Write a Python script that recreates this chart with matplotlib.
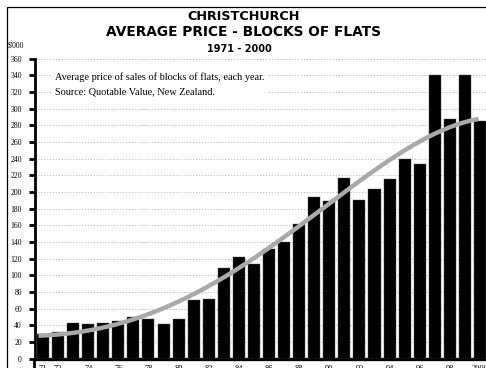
import numpy as np
import matplotlib
matplotlib.use("Agg")
import matplotlib.pyplot as plt
from matplotlib.patches import Rectangle
from matplotlib.lines import Line2D

# Average sale price of blocks of flats in Christchurch ($'000)
years = list(range(1971, 2001))
prices = [29, 32, 43, 41, 43, 45, 50, 47, 41, 48,
          70, 72, 109, 122, 113, 131, 140, 162, 194, 189,
          217, 190, 203, 216, 239, 234, 340, 288, 340, 285]

# smoothed trend values ($'000)
trend_years = [1971, 1974, 1977, 1980, 1982, 1984, 1986, 1988, 1990, 1992, 1994, 1996, 1998, 1999, 2000]
trend_values = [27, 35, 48, 65, 84, 113, 134, 160, 185, 212, 236, 260, 280, 286, 285]

tick_years = [1971, 1972] + list(range(1974, 2000, 2)) + [2000]
tick_labels = ["71", "72"] + [f"{y % 100:02d}" for y in range(1974, 2000, 2)] + ["2000"]
y_ticks = list(range(0, 361, 20))

W, H = 486, 368
fig = plt.figure(figsize=(W / 100, H / 100), dpi=100)
fig.patch.set_facecolor("white")

def fx(px):
    return px / W

def fy(py):
    return 1 - py / H

serif = ["Liberation Serif", "DejaVu Serif"]
heavy = ["DejaVu Sans"]

ax_left, ax_right = 35, 486
ax_top, ax_bottom = 58.5, 358.5
ax = fig.add_axes([fx(ax_left), fy(ax_bottom), fx(ax_right - ax_left), (ax_bottom - ax_top) / H])

ax.bar(years, prices, width=0.8, color="black", edgecolor="#555555", linewidth=0.3, zorder=3)

# smooth curve through the trend values
coef = np.polyfit(trend_years, trend_values, 5)
tx = np.linspace(1970.7, 1999.9, 200)
ax.plot(tx, np.polyval(coef, tx), color="#a9a9a9", lw=3.2, solid_capstyle="butt", zorder=4)

ax.set_xlim(1970.47, 2000.4)
ax.set_ylim(0, 360)

ax.set_yticks(y_ticks)
ax.set_yticklabels([str(v) for v in y_ticks], fontfamily=serif, fontsize=5.5)
ax.set_xticks(tick_years)
ax.set_xticklabels(tick_labels, fontfamily=serif, fontsize=6)
ax.tick_params(axis="y", direction="out", length=4.5, width=2, pad=5, color="black")
ax.tick_params(axis="x", length=0, pad=4.5)

ax.yaxis.grid(True, color="#bbbbbb", linestyle=(0, (1.2, 1.8)), linewidth=0.7, zorder=0)
ax.set_axisbelow(True)

for s in ("top", "right"):
    ax.spines[s].set_visible(False)
ax.spines["left"].set_linewidth(2)
ax.spines["bottom"].set_linewidth(2.4)

# left axis carried down to the bottom edge
fig.add_artist(Line2D([fx(34.3), fx(34.3)], [0, fy(ax_bottom)], color="black", lw=2))

# notes box
ax.text(1971.8, 329, "Average price of sales of blocks of flats, each year.\nSource: Quotable Value, New Zealand.",
        fontfamily=serif, fontsize=7.4, va="center", ha="left", linespacing=1.75, zorder=5,
        bbox=dict(facecolor="white", edgecolor="none", pad=3))

# titles
fig.text(fx(243.5), fy(16), "CHRISTCHURCH", ha="center", va="center",
         fontfamily=heavy, fontweight="bold", fontsize=9.2)
fig.text(fx(243.5), fy(32), "AVERAGE PRICE - BLOCKS OF FLATS", ha="center", va="center",
         fontfamily=heavy, fontweight="bold", fontsize=9.9)
fig.text(fx(239.5), fy(49), "1971 - 2000", ha="center", va="center",
         fontfamily=heavy, fontweight="bold", fontsize=7)
fig.text(fx(8), fy(45), "$'000", ha="left", va="center", fontfamily=serif, fontsize=5.5)

# outer frame
fig.add_artist(Rectangle((fx(7), -0.1), 1.2, fy(7) + 0.1, transform=fig.transFigure,
                         fill=False, edgecolor="black", lw=0.9))

fig.savefig("out.png", dpi=100, facecolor="white")
